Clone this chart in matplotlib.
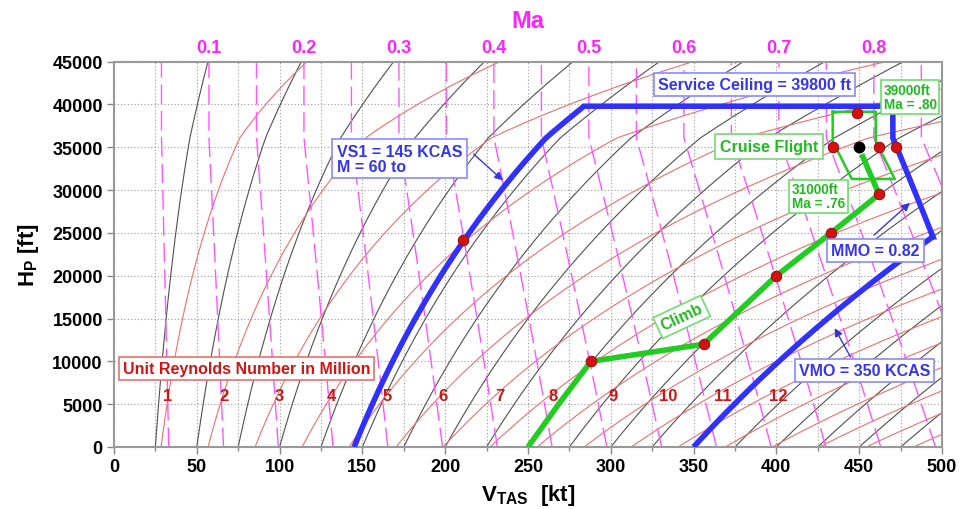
import numpy as np
import matplotlib
matplotlib.use("Agg")
import matplotlib.pyplot as plt

plt.rcParams['font.family'] = ['Liberation Sans', 'DejaVu Sans']
plt.rcParams['font.weight'] = 'bold'
plt.rcParams['mathtext.fontset'] = 'custom'
plt.rcParams['mathtext.bf'] = 'Liberation Sans:bold'
plt.rcParams['mathtext.rm'] = 'Liberation Sans:bold'

# ---------------- data ----------------
cas_lines_kt = [25, 50, 75, 100, 125, 150, 175, 200, 225, 250, 275, 300, 325,
                350, 375, 400, 425, 450, 475, 500]
mach_lines = [0.05, 0.10, 0.15, 0.20, 0.25, 0.30, 0.35, 0.40, 0.45, 0.50,
              0.55, 0.60, 0.65, 0.70, 0.75, 0.80, 0.85]
re_lines_million = [1, 2, 3, 4, 5, 6, 7, 8, 9, 10, 11, 12, 13, 14, 15, 16, 17, 18]

mach_tick_values = [0.1, 0.2, 0.3, 0.4, 0.5, 0.6, 0.7, 0.8]
mach_tick_labels = ['0.1', '0.2', '0.3', '0.4', '0.5', '0.6', '0.7', '0.8']

re_label_text = ['1', '2', '3', '4', '5', '6', '7', '8', '9', '10', '11', '12']
re_label_tas = [32.6, 66.4, 99.6, 131, 165, 198.7, 233, 265, 301.4, 334.5, 367.8, 401]
re_label_alt = [6000] * 12

vs1_kcas = 145
vmo_kcas = 350
mmo_mach = 0.82
ceiling_ft = 39800

climb_tas = [250, 268.5, 288, 356, 400, 433, 462, 451.5]
climb_alt = [0, 5000, 10000, 12000, 20000, 25000, 29500, 34200]

cruise_box_tas = [434, 460, 460, 471.5, 445.5, 436.4, 434, 434]
cruise_box_alt = [39150, 39150, 35700, 31300, 31300, 34800, 35000, 39150]

red_dot_tas = [211, 288, 356, 400, 433, 462, 448.5, 434, 462, 472.5]
red_dot_alt = [24150, 10000, 12000, 20000, 25000, 29500, 39000, 35000, 35000, 35000]
black_dot_tas = [450]
black_dot_alt = [35000]

# ---------------- ISA helpers ----------------
KT = 0.514444


def isa(h_ft):
    h = np.asarray(h_ft, dtype=float) * 0.3048
    T = np.where(h < 11000, 288.15 - 0.0065 * h, 216.65)
    p = np.where(h < 11000, 101325.0 * (T / 288.15) ** 5.25588,
                 22632.06 * np.exp(-9.80665 * (h - 11000) / (287.053 * 216.65)))
    rho = p / (287.053 * T)
    a = np.sqrt(1.4 * 287.053 * T)
    mu = 1.458e-6 * T ** 1.5 / (T + 110.4)
    return T, p, rho, a, mu


def cas_to_tas(cas, h_ft):
    T, p, rho, a, mu = isa(h_ft)
    vc = cas * KT
    qc = 101325.0 * ((1 + 0.2 * (vc / 340.294) ** 2) ** 3.5 - 1)
    M = np.sqrt(5 * ((qc / p + 1) ** (2 / 7) - 1))
    return M * a / KT


def mach_to_tas(M, h_ft):
    return M * isa(h_ft)[3] / KT


def re_to_tas(re_m, h_ft):
    T, p, rho, a, mu = isa(h_ft)
    return re_m * 1e6 * mu / rho / KT


h_grid = np.linspace(0, 45000, 451)

# ---------------- figure ----------------
fig = plt.figure(figsize=(9.61, 5.10), dpi=100)
ax = fig.add_axes([0.1186, 0.1216, 0.8616, 0.7555])
ax.set_xlim(0, 500)
ax.set_ylim(0, 45000)

ax.set_xticks(np.arange(0, 501, 50))
ax.set_xticks(np.arange(25, 500, 50), minor=True)
ax.set_yticks(np.arange(0, 45001, 5000))
ax.grid(which='both', axis='x', ls=(0, (1, 2)), color='#9a9a9a', lw=0.8)
ax.grid(which='major', axis='y', ls=(0, (1, 2)), color='#9a9a9a', lw=0.8)
ax.tick_params(axis='both', which='major', length=5, width=1, color='#888888',
               labelsize=13, pad=3)
ax.tick_params(axis='x', which='minor', length=3, width=1, color='#888888')
for s in ax.spines.values():
    s.set_color('#999999')
    s.set_linewidth(1.5)

# constant CAS lines
for c in cas_lines_kt:
    ax.plot(cas_to_tas(c, h_grid), h_grid, color='#505050', lw=0.8, zorder=2)
# constant Reynolds lines
for r in re_lines_million:
    ax.plot(re_to_tas(r, h_grid), h_grid, color='#ec7070', lw=0.8, zorder=2)
# constant Mach lines
for m in mach_lines:
    ax.plot(mach_to_tas(m, h_grid), h_grid, color='#ff55ff', lw=1.0,
            ls=(0, (14, 5)), zorder=2)

# flight envelope
h_vs = np.linspace(0, ceiling_ft, 300)
vs_line = cas_to_tas(vs1_kcas, h_vs)
diff = cas_to_tas(vmo_kcas, h_grid) - mach_to_tas(mmo_mach, h_grid)
h_cross = np.interp(0, diff, h_grid)
h_mmo = np.linspace(h_cross, ceiling_ft, 300)
h_vmo = np.linspace(0, h_cross, 200)
env_x = np.concatenate([vs_line, mach_to_tas(mmo_mach, h_mmo[::-1]),
                        cas_to_tas(vmo_kcas, h_vmo[::-1])])
env_y = np.concatenate([h_vs, h_mmo[::-1], h_vmo[::-1]])
ax.plot(env_x, env_y, color='#3030ff', lw=4, zorder=5, solid_capstyle='butt',
        solid_joinstyle='miter')

# flight path
ax.plot(cruise_box_tas, cruise_box_alt, color='#22cc22', lw=1.8, zorder=6)
ax.plot(climb_tas, climb_alt, color='#22cc22', lw=4, zorder=6, solid_capstyle='butt')
ax.plot(red_dot_tas, red_dot_alt, 'o', ms=7.5, mfc='#d41010', mec='#991111', mew=0.8, zorder=8)
ax.plot(black_dot_tas, black_dot_alt, 'o', ms=7.5, mfc='black', mec='black', zorder=8)

# Reynolds labels
for t, x, y in zip(re_label_text, re_label_tas, re_label_alt):
    ax.text(x, y, t, color='#d01515', fontsize=12, fontweight='bold',
            ha='center', va='center', zorder=7)

blue_txt = '#3535ee'
blue_edge = '#8a8aff'
green_txt = '#20bb20'
green_edge = '#70dd70'


def box(x, y, s, color, edge, fs=11.5, pad=0.25, rot=0, ls=1.1):
    ax.text(x, y, s, color=color, fontsize=fs, fontweight='bold', ha='center',
            va='center', rotation=rot, rotation_mode='anchor', linespacing=ls,
            multialignment='left', zorder=10,
            bbox=dict(boxstyle='square,pad=%g' % pad, fc='white', ec=edge, lw=1.2))


box(172.4, 33690, 'VS1 = 145 KCAS\nM = 60 to', blue_txt, blue_edge, pad=0.3, ls=1.0)
box(386.5, 42280, 'Service Ceiling = 39800 ft', blue_txt, blue_edge)
box(459.8, 22890, 'MMO = 0.82', blue_txt, blue_edge)
box(453.2, 8990, 'VMO = 350 KCAS', blue_txt, blue_edge)
box(395.5, 35100, 'Cruise Flight', green_txt, green_edge, pad=0.3)
box(480.7, 40880, '39000ft\nMa = .80', green_txt, green_edge, fs=9.8, pad=0.2, ls=1.0)
box(425.4, 29260, '31000ft\nMa = .76', green_txt, green_edge, fs=9.8, pad=0.2, ls=1.0)
box(342.8, 15180, 'Climb', green_txt, green_edge, rot=25)
ax.text(80, 9170, 'Unit Reynolds Number in Million', color='#d01515', fontsize=11.5,
        fontweight='bold', ha='center', va='center', zorder=10,
        bbox=dict(boxstyle='square,pad=0.25', fc='white', ec='#e87070', lw=1.2))

# arrows
arrow_kw = dict(arrowstyle='-|>', color='#3535dd', lw=1.0, mutation_scale=12)
ax.annotate('', xy=(236.1, 30920), xytext=(216.0, 34420), arrowprops=arrow_kw, zorder=9)
ax.annotate('', xy=(481.9, 28730), xytext=(457.7, 24530), arrowprops=arrow_kw, zorder=9)
ax.annotate('', xy=(434.4, 14170), xytext=(445.5, 10240), arrowprops=arrow_kw, zorder=9)

# top Mach axis
a45 = isa(45000)[3] / KT
axt = ax.twiny()
axt.set_xlim(0, 500)
axt.set_xticks([m * a45 for m in mach_tick_values])
axt.set_xticklabels(mach_tick_labels)
axt.tick_params(axis='x', length=0, labelsize=13, labelcolor='#ff22ff', pad=4)
for s in axt.spines.values():
    s.set_visible(False)
axt.set_xlabel('Ma', color='#ff22ff', fontsize=17, fontweight='bold', labelpad=9)

ax.set_xlabel(r'$\mathbf{V}_{\mathbf{TAS}}$  [kt]', fontsize=16, fontweight='bold', labelpad=5)
ax.set_ylabel(r'$\mathbf{H}_{\mathbf{P}}$ [ft]', fontsize=16, fontweight='bold', labelpad=8)

fig.savefig('out.png', dpi=100)
